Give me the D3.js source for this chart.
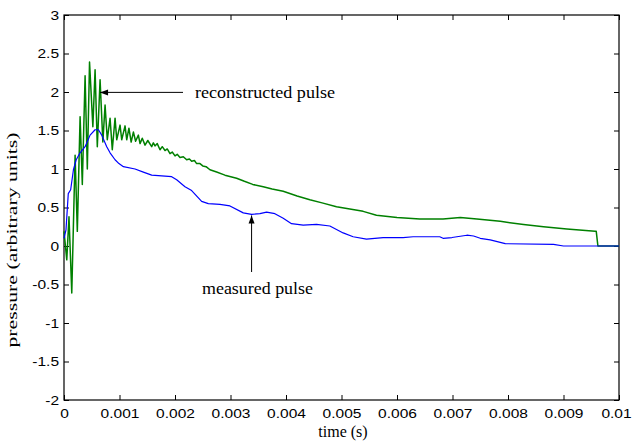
<!DOCTYPE html>
<html><head><meta charset="utf-8">
<script src="https://cdn.jsdelivr.net/npm/d3@7"></script>
<style>
html,body{margin:0;padding:0;background:#fff;}
svg{display:block;}
</style></head>
<body>
<svg id="chart" width="633" height="443"></svg>
<script>
// time in ms (axis shows seconds)
const measuredT = [0,0.036,0.077,0.12,0.17,0.22,0.29,0.38,0.47,0.56,0.62,0.68,0.77,0.83,0.92,0.99,1.07,1.28,1.43,1.58,1.94,2.03,2.18,2.30,2.48,2.60,2.81,2.99,3.23,3.38,3.53,3.65,3.80,3.95,4.10,4.31,4.55,4.79,5.03,5.21,5.45,5.75,6.11,6.29,6.77,6.83,6.99,7.26,7.38,7.50,7.68,7.95,8.82,9.0,10.0];
const measuredP = [0.10,0.21,0.68,0.73,0.99,1.12,1.21,1.29,1.44,1.51,1.51,1.44,1.29,1.21,1.12,1.07,1.03,1.00,0.96,0.92,0.90,0.86,0.77,0.72,0.58,0.55,0.54,0.52,0.43,0.41,0.42,0.44,0.42,0.36,0.29,0.27,0.28,0.26,0.17,0.12,0.09,0.11,0.11,0.12,0.12,0.10,0.11,0.14,0.13,0.10,0.08,0.03,0.02,0.0,0.0];

const reconT = [0,0.05,0.09,0.14,0.20,0.24,0.29,0.33,0.38,0.42,0.46,0.52,0.56,0.60,0.65,0.70,0.74,0.78,0.83,0.87,0.92,0.95,1.01,1.04,1.10,1.13,1.17,1.21,1.25,1.29,1.34,1.37,1.41,1.46,1.51,1.58,1.61,1.64,1.68,1.73,1.77,1.82,1.86,1.91,1.95,2.00,2.04,2.09,2.15,2.21,2.26,2.30,2.35,2.39,2.45,2.50,2.56,2.63,2.75,2.90,3.11,3.25,3.40,3.59,3.75,3.95,4.20,4.43,4.65,4.91,5.15,5.39,5.63,6.00,6.41,6.83,7.14,7.44,7.86,8.28,8.64,9.06,9.57,9.59,9.62,10.0];
const reconP = [0.19,-0.18,0.38,-0.61,1.18,0.19,1.68,0.80,2.21,1.00,2.39,1.55,2.29,1.29,2.16,1.35,1.83,1.38,1.66,1.25,1.66,1.38,1.57,1.38,1.56,1.38,1.53,1.35,1.48,1.36,1.44,1.33,1.40,1.31,1.37,1.29,1.34,1.30,1.33,1.25,1.29,1.24,1.26,1.20,1.22,1.17,1.19,1.15,1.16,1.12,1.13,1.10,1.11,1.07,1.07,1.04,1.03,0.99,0.96,0.92,0.88,0.84,0.80,0.77,0.74,0.71,0.65,0.60,0.56,0.51,0.48,0.45,0.40,0.37,0.35,0.35,0.37,0.35,0.32,0.28,0.25,0.22,0.19,0.19,0.0,0.0];

const xTicks = [0,0.001,0.002,0.003,0.004,0.005,0.006,0.007,0.008,0.009,0.01];
const yTicks = [-2,-1.5,-1,-0.5,0,0.5,1,1.5,2,2.5,3];

const L = 64, R = 619, T = 15, B = 400;
const svg = d3.select("#chart");
const x = d3.scaleLinear().domain([0,0.01]).range([L,R]);
const y = d3.scaleLinear().domain([-2,3]).range([B,T]);

const tickFont = "'Liberation Sans', Arial, sans-serif";
const serif = "'Liberation Serif', 'Times New Roman', serif";
const SX = 1.15;

// axes with inward ticks
const gx = svg.append("g").attr("transform",`translate(0,${B})`)
  .call(d3.axisBottom(x).tickValues(xTicks).tickSize(-5).tickPadding(8).tickFormat(d=>d===0?"0":String(+d.toFixed(3))));
const gxt = svg.append("g").attr("transform",`translate(0,${T})`)
  .call(d3.axisTop(x).tickValues(xTicks).tickSize(-5).tickFormat(""));
const gy = svg.append("g").attr("transform",`translate(${L},0)`)
  .call(d3.axisLeft(y).tickValues(yTicks).tickSize(-5).tickPadding(5).tickFormat(d=>String(d)));
const gyr = svg.append("g").attr("transform",`translate(${R},0)`)
  .call(d3.axisRight(y).tickValues(yTicks).tickSize(-5).tickFormat(""));
[gx,gxt,gy,gyr].forEach(g=>{
  g.select(".domain").remove();
  g.selectAll(".tick line").attr("stroke","#000").attr("stroke-width",1);
  g.selectAll("text").attr("font-family",tickFont).attr("font-size",13.5).attr("fill","#000");
});
gx.selectAll(".tick text").attr("transform",`scale(${SX},1)`);
gx.selectAll(".tick text").filter(d=>d===0.01).attr("transform",`translate(-3,0) scale(${SX},1)`);
gy.selectAll(".tick text").attr("transform",`translate(-5,0) scale(${SX},1) translate(5,0)`);

svg.append("rect").attr("x",L).attr("y",T).attr("width",R-L).attr("height",B-T)
  .attr("fill","none").attr("stroke","#000").attr("stroke-width",1.2);

const line = d3.line();
const mk = (ts,ps)=>ts.map((t,i)=>[x(t/1000),y(ps[i])]);

svg.append("path").attr("d",line(mk(reconT,reconP)))
  .attr("fill","none").attr("stroke","#008000").attr("stroke-width",1.5).attr("stroke-linejoin","round");
svg.append("path").attr("d",line(mk(measuredT,measuredP)))
  .attr("fill","none").attr("stroke","#0000ff").attr("stroke-width",1.2).attr("stroke-linejoin","round");

// annotations
function arrow(x1,y1,x2,y2){
  svg.append("line").attr("x1",x1).attr("y1",y1).attr("x2",x2).attr("y2",y2)
    .attr("stroke","#000").attr("stroke-width",1);
  const a = Math.atan2(y2-y1,x2-x1), len=8, w=3;
  const bx = x2-len*Math.cos(a), by = y2-len*Math.sin(a);
  const px = -Math.sin(a)*w, py = Math.cos(a)*w;
  svg.append("path").attr("d",`M${x2},${y2}L${bx+px},${by+py}L${bx-px},${by-py}Z`).attr("fill","#000");
}
arrow(183, y(1.995), x(0.00065), y(1.995));
arrow(x(0.00338), 272, x(0.00338), y(0.41)+1);

svg.append("text").attr("x",195).attr("y",98).attr("font-family",serif).attr("font-size",17)
  .attr("textLength",140).attr("lengthAdjust","spacingAndGlyphs").text("reconstructed pulse");
svg.append("text").attr("x",202).attr("y",294).attr("font-family",serif).attr("font-size",17)
  .attr("textLength",111).attr("lengthAdjust","spacingAndGlyphs").text("measured pulse");

svg.append("text").attr("x",343).attr("y",437).attr("text-anchor","middle").attr("font-family",serif).attr("font-size",16).text("time (s)");
svg.append("text").attr("transform","translate(17,240) rotate(-90)").attr("text-anchor","middle").attr("font-family",serif).attr("font-size",15)
  .attr("textLength",215).attr("lengthAdjust","spacingAndGlyphs").text("pressure (arbitrary units)");
</script>
</body></html>
